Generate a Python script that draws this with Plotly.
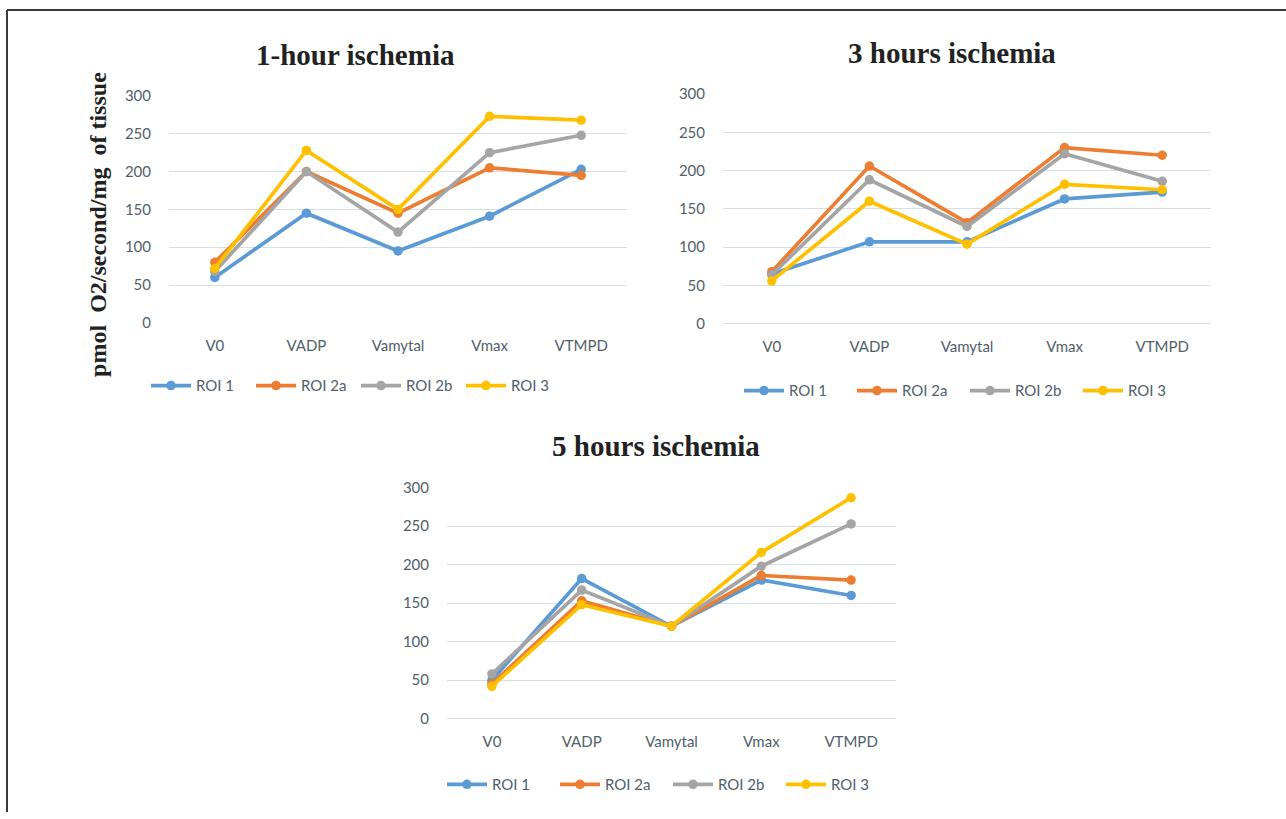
import plotly.graph_objects as go

W, H = 1286, 819

categories = ["V0", "VADP", "Vamytal", "Vmax", "VTMPD"]
series_names = ["ROI 1", "ROI 2a", "ROI 2b", "ROI 3"]
colors = ["#5B9BD5", "#ED7D31", "#A5A5A5", "#FFC000"]

# 1-hour ischemia
h1_roi1 = [60, 145, 95, 141, 203]
h1_roi2a = [80, 200, 145, 205, 195]
h1_roi2b = [68, 200, 120, 225, 248]
h1_roi3 = [72, 228, 150, 273, 268]

# 3 hours ischemia
h3_roi1 = [65, 107, 107, 163, 172]
h3_roi2a = [68, 206, 132, 230, 220]
h3_roi2b = [64, 188, 127, 222, 186]
h3_roi3 = [56, 160, 104, 182, 175]

# 5 hours ischemia
h5_roi1 = [50, 182, 120, 180, 160]
h5_roi2a = [45, 153, 120, 186, 180]
h5_roi2b = [58, 167, 120, 198, 253]
h5_roi3 = [42, 148, 120, 216, 287]

yticks = [0, 50, 100, 150, 200, 250, 300]
titles = ["1-hour ischemia", "3 hours ischemia", "5 hours ischemia"]
ytitle = "pmol  O2/second/mg  of tissue"

# the photographed page is offset / squeezed slightly in y; compensate
Y_OFF, Y_SCALE = 8.0, 0.981


def px_x(v):
    return v / W


def px_y(v):
    return 1 - ((v - Y_OFF) / Y_SCALE) / H


panels = [
    dict(data=[h1_roi1, h1_roi2a, h1_roi2b, h1_roi3], x0=169, x1=627, y0=95, y1=322,
         title_x=355, title_y=54, leg_x=356, leg_y=385, leg_w=50),
    dict(data=[h3_roi1, h3_roi2a, h3_roi2b, h3_roi3], x0=723, x1=1211, y0=93, y1=323,
         title_x=952, title_y=52, leg_x=965, leg_y=390, leg_w=58),
    dict(data=[h5_roi1, h5_roi2a, h5_roi2b, h5_roi3], x0=447, x1=896, y0=487, y1=718,
         title_x=656, title_y=445, leg_x=668, leg_y=784, leg_w=58),
]

fig = go.Figure()
layout = dict(
    width=W, height=H,
    margin=dict(l=0, r=0, t=0, b=0),
    paper_bgcolor="white", plot_bgcolor="white",
    showlegend=True,
    annotations=[], shapes=[],
)

tick_font = dict(family="Lato, 'Open Sans', sans-serif", size=15, color="#52606B")

for i, p in enumerate(panels):
    n = "" if i == 0 else str(i + 1)
    xa, ya = "x" + n, "y" + n
    leg = "legend" if i == 0 else "legend" + str(i + 1)
    for s, (name, vals) in enumerate(zip(series_names, p["data"])):
        fig.add_trace(go.Scatter(
            x=categories, y=vals, name=name, mode="lines+markers",
            line=dict(color=colors[s], width=3.7),
            marker=dict(color=colors[s], size=9.5),
            xaxis=xa, yaxis=ya, legend=leg, cliponaxis=False,
        ))
    pad = 300 / (p["y1"] - p["y0"])  # one pixel in data units
    layout["xaxis" + n] = dict(
        domain=[px_x(p["x0"]), px_x(p["x1"])], anchor=ya,
        type="category", range=[-0.5, 4.5], showgrid=False, zeroline=False,
        showline=False, ticks="outside", ticklen=8, tickcolor="rgba(0,0,0,0)",
        tickfont=tick_font, fixedrange=True,
    )
    layout["yaxis" + n] = dict(
        domain=[px_y(p["y1"] + 1), px_y(p["y0"] - 1)], anchor=xa,
        range=[-pad, 300 + pad], tickvals=yticks, showgrid=True, gridcolor="#D6DFE8",
        gridwidth=1.3, zeroline=False, showline=False, ticks="outside", ticklen=14,
        tickcolor="rgba(0,0,0,0)", tickfont=tick_font, fixedrange=True,
    )
    layout[leg] = dict(
        orientation="h", x=px_x(p["leg_x"]), y=px_y(p["leg_y"]),
        xanchor="center", yanchor="middle", font=tick_font,
        bgcolor="rgba(0,0,0,0)", entrywidth=p["leg_w"], entrywidthmode="pixels",
        itemwidth=40, tracegroupgap=0,
    )
    layout["annotations"].append(dict(
        text="<b>%s</b>" % titles[i], x=px_x(p["title_x"]), y=px_y(p["title_y"]),
        xref="paper", yref="paper", showarrow=False, xanchor="center", yanchor="middle",
        font=dict(family="Liberation Serif, Times New Roman, serif", size=29, color="#222222"),
    ))

layout["annotations"].append(dict(
    text="<b>%s</b>" % ytitle, x=px_x(98), y=px_y(224), xref="paper", yref="paper",
    showarrow=False, textangle=-90, xanchor="center", yanchor="middle",
    font=dict(family="Liberation Serif, Times New Roman, serif", size=24, color="#222222"),
))

# outer frame (top and left edges)
layout["shapes"].append(dict(type="line", xref="paper", yref="paper",
                             x0=px_x(7), x1=1, y0=px_y(9), y1=px_y(9),
                             line=dict(color="#3A3A3A", width=2)))
layout["shapes"].append(dict(type="line", xref="paper", yref="paper",
                             x0=px_x(7), x1=px_x(7), y0=px_y(9), y1=0,
                             line=dict(color="#3A3A3A", width=2)))

fig.update_layout(**layout)
fig.write_html(
    "out.html",
    config={"displayModeBar": False},
    post_script="document.body.style.margin='0';document.body.style.overflow='hidden';",
)
